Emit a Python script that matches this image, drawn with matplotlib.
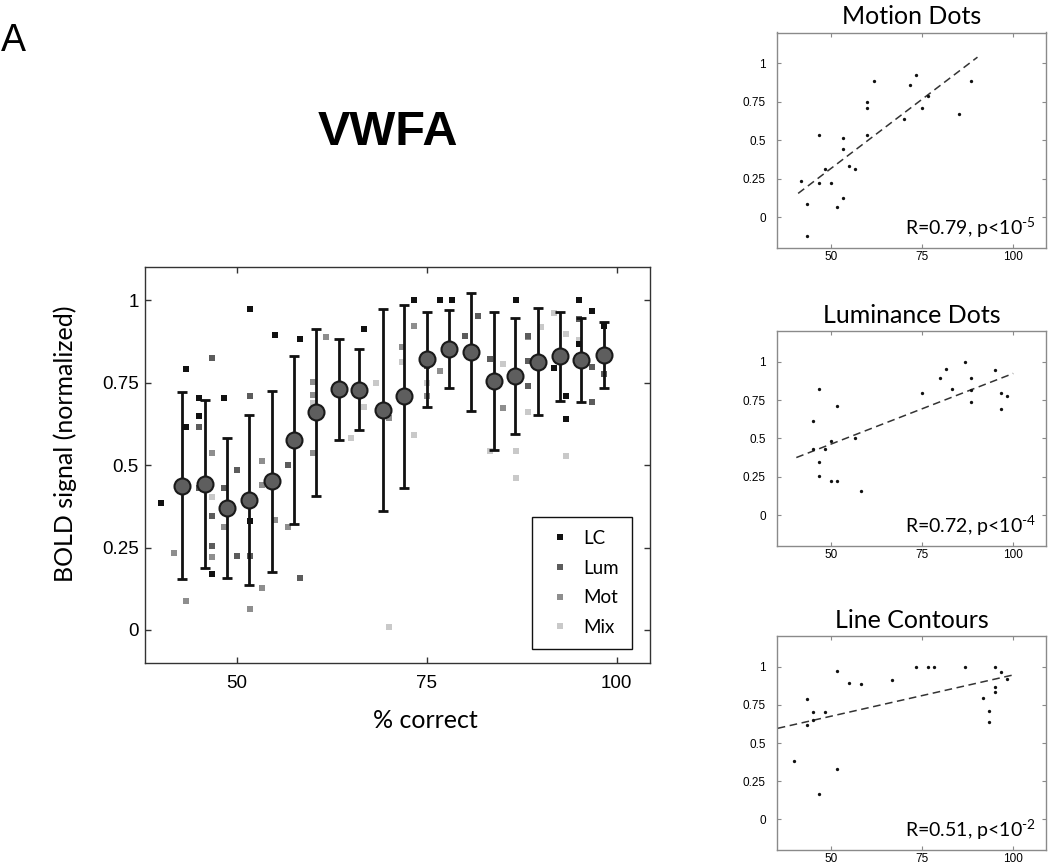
import matplotlib
matplotlib.use("Agg")
import matplotlib.pyplot as plt
import numpy as np
from matplotlib.lines import Line2D

plt.rcParams['font.family'] = ['Lato', 'DejaVu Sans']
plt.rcParams['mathtext.fontset'] = 'custom'
plt.rcParams['mathtext.rm'] = 'Lato'
plt.rcParams['mathtext.default'] = 'regular'

# ---------------- data ----------------
bin_centers = [42.8, 45.8, 48.7, 51.6, 54.6, 57.5, 60.4, 63.4, 66.1, 69.2,
               72.0, 75.0, 77.9, 80.8, 83.8, 86.6, 89.7, 92.5, 95.3, 98.3]
bin_means = [0.437, 0.442, 0.370, 0.395, 0.451, 0.575, 0.660, 0.730, 0.728, 0.668,
             0.708, 0.820, 0.851, 0.843, 0.755, 0.770, 0.813, 0.830, 0.818, 0.832]
bin_err = [0.283, 0.254, 0.212, 0.258, 0.274, 0.254, 0.253, 0.153, 0.123, 0.306,
           0.277, 0.145, 0.119, 0.179, 0.210, 0.176, 0.162, 0.135, 0.127, 0.100]

lc_x = [40.0, 43.3, 43.3, 45.0, 45.0, 46.7, 48.3, 51.7, 51.7, 55.0, 58.3, 66.7,
        73.3, 76.7, 78.3, 86.7, 91.7, 93.3, 93.3, 95.0, 95.0, 95.0, 96.7, 98.3]
lc_y = [0.385, 0.790, 0.615, 0.703, 0.650, 0.169, 0.703, 0.974, 0.329, 0.894, 0.883, 0.913,
        1.000, 1.000, 1.000, 1.000, 0.794, 0.708, 0.638, 1.000, 0.866, 0.831, 0.966, 0.920]

lum_x = [45.0, 45.0, 46.7, 46.7, 46.7, 48.3, 50.0, 50.0, 51.7, 51.7, 56.7, 58.3,
         75.0, 80.0, 81.7, 83.3, 86.7, 88.3, 88.3, 88.3, 95.0, 96.7, 96.7, 98.3]
lum_y = [0.614, 0.430, 0.823, 0.345, 0.255, 0.431, 0.484, 0.225, 0.709, 0.225, 0.500, 0.157,
         0.799, 0.891, 0.951, 0.820, 1.000, 0.891, 0.815, 0.738, 0.943, 0.796, 0.692, 0.775]

mot_x = [41.7, 43.3, 43.3, 46.7, 46.7, 48.3, 50.0, 51.7, 53.3, 53.3, 53.3, 55.0,
         56.7, 60.0, 60.0, 60.0, 61.7, 70.0, 71.7, 73.3, 75.0, 76.7, 85.0, 88.3]
mot_y = [0.234, 0.087, -0.121, 0.537, 0.221, 0.313, 0.223, 0.064, 0.513, 0.440, 0.128, 0.333,
         0.313, 0.751, 0.711, 0.536, 0.887, 0.641, 0.858, 0.921, 0.710, 0.786, 0.673, 0.887]

mix_x = [46.7, 60.0, 65.0, 66.7, 68.3, 70.0, 71.7, 73.3, 75.0, 83.3, 85.0, 86.7,
         86.7, 88.3, 90.0, 91.7, 93.3, 93.3, 95.0]
mix_y = [0.404, 0.689, 0.583, 0.675, 0.749, 0.009, 0.812, 0.592, 0.749, 0.542, 0.806, 0.542,
         0.461, 0.661, 0.918, 0.961, 0.896, 0.528, 0.878]

legend_labels = ['LC', 'Lum', 'Mot', 'Mix']
cond_colors = ['#111111', '#5c5c5c', '#8e8e8e', '#c9c9c9']

panel_titles = ['Motion Dots', 'Luminance Dots', 'Line Contours']
panel_stats = [r'R=0.79, p<10$^{\text{-}5}$', r'R=0.72, p<10$^{\text{-}4}$',
               r'R=0.51, p<10$^{\text{-}2}$']
fit_ranges = [(41.0, 90.2), (40.5, 100.0), (35.4, 100.2)]

W, H = 1050, 866
fig = plt.figure(figsize=(W / 100, H / 100), dpi=100)

def frac(left, top, right, bottom):
    return [left / W, 1 - bottom / H, (right - left) / W, (bottom - top) / H]

# ---------------- main axes ----------------
ax = fig.add_axes(frac(145, 267, 650, 663))
cond_data = [(lc_x, lc_y), (lum_x, lum_y), (mot_x, mot_y), (mix_x, mix_y)]
for (xs, ys), c in zip(cond_data[::-1], cond_colors[::-1]):
    ax.plot(xs, ys, linestyle='none', marker='s', markersize=3.8, color=c,
            markeredgewidth=0, zorder=2)

ax.errorbar(bin_centers, bin_means, yerr=bin_err, fmt='none', ecolor='#111111',
            elinewidth=2.0, capsize=3.8, capthick=2.0, zorder=3)
ax.plot(bin_centers, bin_means, linestyle='none', marker='o', markersize=11.5,
        markerfacecolor='#5e5e5e', markeredgecolor='#1a1a1a', markeredgewidth=1.5, zorder=4)

ax.set_xlim(37.9, 104.4)
ax.set_ylim(-0.1, 1.1)
ax.set_xticks([50, 75, 100])
ax.set_yticks([0, 0.25, 0.5, 0.75, 1])
ax.set_yticklabels(['0', '0.25', '0.5', '0.75', '1'])
for s in ax.spines.values():
    s.set_color('#333333')
    s.set_linewidth(1.0)
ax.tick_params(direction='in', top=True, right=True, length=4, width=1, color='#333333',
               labelsize=13.5, labelfontfamily='Liberation Sans')
ax.tick_params(axis='x', pad=8.5)
ax.tick_params(axis='y', pad=4.5)

handles = [Line2D([], [], linestyle='none', marker='s', markersize=3.8, color=c,
                  markeredgewidth=0) for c in cond_colors]
leg = ax.legend(handles, legend_labels, loc='lower right', bbox_to_anchor=(0.964, 0.035),
                borderaxespad=0, fancybox=False, edgecolor='#111111', framealpha=1,
                fontsize=13.5, handlelength=1.5, handletextpad=0.5, labelspacing=0.68,
                borderpad=0.7)
leg.get_frame().set_linewidth(1.0)

fig.text(65 / W, 1 - 444 / H, 'BOLD signal (normalized)', rotation=90, ha='center',
         va='center', fontsize=18)
fig.text(425 / W, 1 - 728 / H, '% correct', ha='center', va='baseline', fontsize=18)
fig.text(388 / W, 1 - 145 / H, 'VWFA', ha='center', va='baseline', fontsize=35,
         fontweight='bold', family='Liberation Sans')
fig.text(1 / W, 1 - 51 / H, 'A', ha='left', va='baseline', fontsize=27,
         family='Liberation Sans')

# ---------------- small panels ----------------
panel_boxes = [(777, 32.5, 1046, 248), (777, 331, 1046, 546), (777, 636, 1046, 850)]
panel_data = [(mot_x, mot_y), (lum_x, lum_y), (lc_x, lc_y)]
for box, (xs, ys), title, stat, fr in zip(panel_boxes, panel_data, panel_titles,
                                          panel_stats, fit_ranges):
    sa = fig.add_axes(frac(*box))
    sa.plot(xs, ys, linestyle='none', marker='o', markersize=2.4, color='#111111',
            markeredgewidth=0, zorder=3)
    slope, icpt = np.polyfit(xs, ys, 1)
    fx = np.array(fr)
    sa.plot(fx, slope * fx + icpt, linestyle=(0, (5, 3)), color='#333333', lw=1.1, zorder=2)
    sa.set_xlim(35.2, 109)
    sa.set_ylim(-0.2, 1.2)
    sa.set_xticks([50, 75, 100])
    sa.set_yticks([0, 0.25, 0.5, 0.75, 1])
    sa.set_yticklabels(['0', '0.25', '0.5', '0.75', '1'])
    for s in sa.spines.values():
        s.set_color('#8a8a8a')
        s.set_linewidth(1.0)
    sa.tick_params(direction='in', top=True, right=True, length=3, width=0.8,
                   color='#8a8a8a', labelsize=8.5, labelfontfamily='Liberation Sans')
    sa.tick_params(axis='y', pad=8)
    sa.tick_params(axis='x', pad=2.5)
    sa.set_title(title, fontsize=18, pad=6)
    sa.text(0.962, 0.06, stat, transform=sa.transAxes, ha='right', va='baseline',
            fontsize=14)

fig.savefig('out.png', dpi=100)
